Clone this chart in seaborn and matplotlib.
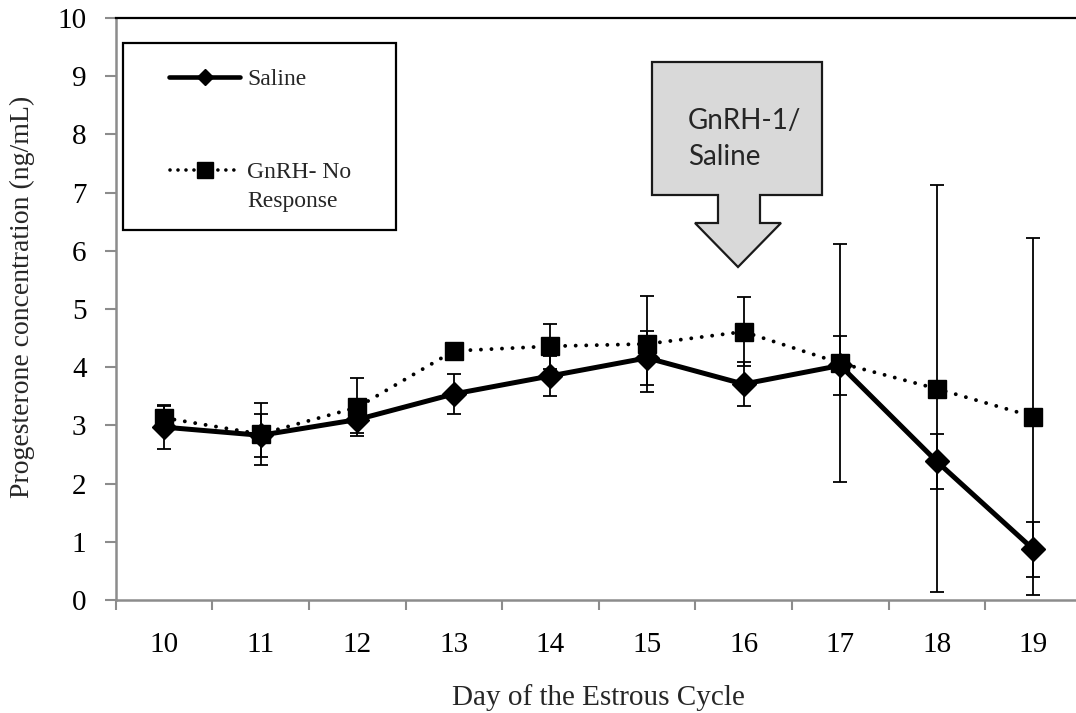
import numpy as np
import pandas as pd
import matplotlib
matplotlib.use("Agg")
import matplotlib.pyplot as plt
import seaborn as sns
from matplotlib.patches import Rectangle, Polygon
from matplotlib.lines import Line2D

# ---- data ----
days = [10, 11, 12, 13, 14, 15, 16, 17, 18, 19]
saline = [2.97, 2.83, 3.10, 3.54, 3.85, 4.16, 3.71, 4.03, 2.38, 0.87]
saline_err = [0.38, 0.37, 0.23, 0.34, 0.35, 0.47, 0.38, 0.51, 0.48, 0.47]
gnrh = [3.13, 2.85, 3.31, 4.28, 4.36, 4.40, 4.61, 4.07, 3.63, 3.15]
gnrh_err = [0.20, 0.53, 0.50, 0.12, 0.39, 0.83, 0.59, 2.04, 3.50, 3.07]
y_ticks = [0, 1, 2, 3, 4, 5, 6, 7, 8, 9, 10]
series_names = ["Saline", "GnRH- No\nResponse"]
arrow_text = "GnRH-1/\nSaline"
xlabel = "Day of the Estrous Cycle"
ylabel = "Progesterone concentration (ng/mL)"

sns.set_theme(style="white")
plt.rcParams['font.family'] = ['Liberation Serif', 'DejaVu Serif']

W, H = 1076, 713
fig = plt.figure(figsize=(W / 100, H / 100), dpi=100)

def fx(x):
    return x / W

def fy(y):
    return 1 - y / H

ax_left, ax_right, ax_top, ax_bottom = 115.7, 1081.7, 18, 600
ax = fig.add_axes([fx(ax_left), fy(ax_bottom), (ax_right - ax_left) / W, (ax_bottom - ax_top) / H])

df_s = pd.DataFrame({"day": days, "value": saline, "err": saline_err})
df_g = pd.DataFrame({"day": days, "value": gnrh, "err": gnrh_err})

# error bars
for d in (df_s, df_g):
    ax.errorbar(d["day"], d["value"], yerr=d["err"], fmt="none", ecolor="black",
                elinewidth=1.3, capsize=4.8, capthick=1.3, zorder=2)

# lines
sns.lineplot(data=df_g, x="day", y="value", ax=ax, color="black", linewidth=2.8,
             linestyle=(0, (0.01, 2.7)),
             marker="s", markersize=13.5, markeredgecolor="black", markerfacecolor="black",
             markeredgewidth=1, zorder=3)
sns.lineplot(data=df_s, x="day", y="value", ax=ax, color="black", linewidth=3.6,
             marker="D", markersize=12.5, markeredgecolor="black", markerfacecolor="black",
             markeredgewidth=1, zorder=4)
for ln in ax.lines:
    ln.set_dash_capstyle("round")

ax.set_xlim(9.5, 19.5)
ax.set_ylim(0, 10)
ax.set_yticks(y_ticks)
ax.set_yticklabels([str(v) for v in y_ticks])
ax.set_xticks(np.arange(9.5, 20.0, 1.0))
ax.set_xticklabels([""] * 11)
ax.set_xticks(days, minor=True)
ax.set_xticklabels([str(d) for d in days], minor=True)

tick_fs = 21
ax.tick_params(axis="x", which="major", length=7, width=1.5, color="#8c8c8c", direction="out", bottom=True)
ax.tick_params(axis="x", which="minor", length=0, pad=23, labelsize=tick_fs, labelcolor="black", bottom=True)
ax.tick_params(axis="y", which="major", length=8, width=1.5, color="#8c8c8c", direction="out",
               pad=13, labelsize=tick_fs, labelcolor="black", left=True)

for s in ["left", "bottom"]:
    ax.spines[s].set_color("#8c8c8c")
    ax.spines[s].set_linewidth(1.8)
ax.spines["top"].set_color("black")
ax.spines["top"].set_linewidth(1.6)
ax.spines["right"].set_visible(False)
ax.grid(False)

ax.set_xlabel(xlabel, fontsize=21)
ax.set_ylabel(ylabel, fontsize=20)
ax.xaxis.set_label_coords((598 - ax_left) / (ax_right - ax_left), (ax_bottom - 705) / (ax_bottom - ax_top))
ax.xaxis.label.set_va("baseline")
ax.yaxis.set_label_coords((22 - ax_left) / (ax_right - ax_left), (ax_bottom - 297) / (ax_bottom - ax_top))
ax.yaxis.label.set_va("center")

# ---- legend (manual box) ----
leg_fs = 17
fig.patches.append(Rectangle((fx(123), fy(230)), (396 - 123) / W, (230 - 43) / H,
                             transform=fig.transFigure, facecolor="white", edgecolor="black",
                             linewidth=1.6, zorder=5))
fig.lines.append(Line2D([fx(169), fx(240)], [fy(77), fy(77)], transform=fig.transFigure,
                        color="black", linewidth=3.3, zorder=6))
fig.lines.append(Line2D([fx(205)], [fy(77)], transform=fig.transFigure, color="black",
                        marker="D", markersize=8.5, linestyle="none", zorder=7))
fig.lines.append(Line2D([fx(170), fx(240)], [fy(170), fy(170)], transform=fig.transFigure,
                        color="black", linewidth=2.6, linestyle=(0, (0.01, 2.2)),
                        dash_capstyle="round", zorder=6))
fig.lines.append(Line2D([fx(205)], [fy(170)], transform=fig.transFigure, color="black",
                        marker="s", markersize=11, linestyle="none", zorder=7))
fig.text(fx(247), fy(85), series_names[0], fontsize=leg_fs, va="baseline", ha="left", zorder=8)
fig.text(fx(247), fy(178), series_names[1].split("\n")[0], fontsize=leg_fs, va="baseline", ha="left", zorder=8)
fig.text(fx(247), fy(207), series_names[1].split("\n")[1], fontsize=leg_fs, va="baseline", ha="left", zorder=8)

# ---- callout arrow ----
pts = [(652, 62), (822, 62), (822, 195), (760, 195), (760, 223), (781, 223), (738, 267),
       (695, 223), (718, 223), (718, 195), (652, 195)]
fig.patches.append(Polygon([(fx(x), fy(y)) for x, y in pts], closed=True, transform=fig.transFigure,
                           facecolor="#d9d9d9", edgecolor="#1a1a1a", linewidth=1.6, zorder=5))
fig.text(fx(688), fy(129), arrow_text.split("\n")[0], fontsize=20, family=["Lato", "DejaVu Sans"],
         va="baseline", ha="left", zorder=8)
fig.text(fx(688), fy(165), arrow_text.split("\n")[1], fontsize=20, family=["Lato", "DejaVu Sans"],
         va="baseline", ha="left", zorder=8)

fig.savefig("out.png", dpi=100)
